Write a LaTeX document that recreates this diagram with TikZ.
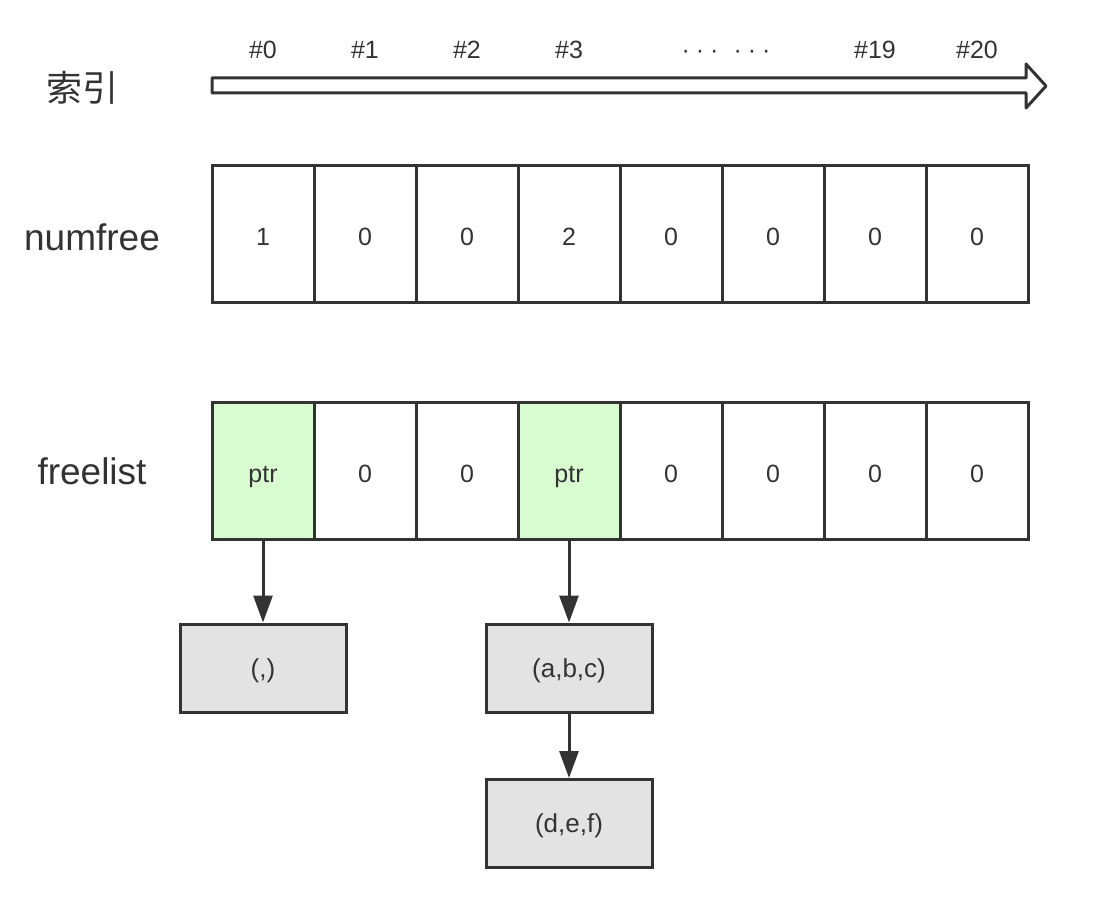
\documentclass[tikz,border=0pt]{standalone}
\usepackage{fontspec}
\setmainfont{Liberation Sans}
\newfontfamily\cjk{Noto Sans CJK SC}
\usetikzlibrary{arrows.meta}
\definecolor{ink}{HTML}{333333}
\definecolor{greenfill}{HTML}{D8FBD0}
\definecolor{grayfill}{HTML}{E3E3E3}
\begin{document}
\begin{tikzpicture}[x=1pt,y=-1pt,
  cell/.style={draw=ink,line width=3pt,minimum width=102pt,minimum height=137pt,inner sep=0pt,font=\fontsize{25}{30}\selectfont,text=ink,text height=25pt,text depth=2pt},
  green/.style={fill=greenfill},
  item/.style={draw=ink,line width=3pt,fill=grayfill,minimum width=166pt,minimum height=88pt,inner sep=0pt,font=\fontsize{26}{30}\selectfont,text=ink,text height=22pt,text depth=4pt},
  idx/.style={font=\fontsize{25}{30}\selectfont,text=ink},
  rowlabel/.style={font=\fontsize{37}{42}\selectfont,text=ink},
  link/.style={draw=ink,line width=3pt,-{Triangle[length=27pt,width=19pt]}}
]
\useasboundingbox (0,0) rectangle (1104,904);
% index arrow
\draw[ink,line width=3pt,fill=white,line join=round]
  (212,78) -- (1026,78) -- (1026,64) -- (1046,86) -- (1026,108) -- (1026,93) -- (212,93) -- cycle;
\node[rowlabel,font=\fontsize{36}{42}\selectfont] (lidx) at (82,88) {\cjk 索引};
\node[idx] (i0) at (263,50) {\#0};
\node[idx] (i1) at (365,50) {\#1};
\node[idx] (i2) at (467,50) {\#2};
\node[idx] (i3) at (569,50) {\#3};
\node[idx,anchor=base,inner sep=0pt] (idots) at (726,59) {·\kern6pt·\kern6pt·\kern15pt·\kern6pt·\kern6pt·};
\node[idx] (i19) at (875,50) {\#19};
\node[idx] (i20) at (977,50) {\#20};
% numfree
\node[rowlabel] (lnum) at (92,237) {numfree};
\node[cell] (n0) at (263,234) {1};
\node[cell] (n1) at (365,234) {0};
\node[cell] (n2) at (467,234) {0};
\node[cell] (n3) at (569,234) {2};
\node[cell] (n4) at (671,234) {0};
\node[cell] (n5) at (773,234) {0};
\node[cell] (n6) at (875,234) {0};
\node[cell] (n7) at (977,234) {0};
% freelist
\node[rowlabel] (lfree) at (92,471) {freelist};
\node[cell,green] (f0) at (263,470.5) {ptr};
\node[cell] (f1) at (365,470.5) {0};
\node[cell] (f2) at (467,470.5) {0};
\node[cell,green] (f3) at (569,470.5) {ptr};
\node[cell] (f4) at (671,470.5) {0};
\node[cell] (f5) at (773,470.5) {0};
\node[cell] (f6) at (875,470.5) {0};
\node[cell] (f7) at (977,470.5) {0};
% items
\node[item] (e0) at (263,668) {(,)};
\node[item] (abc) at (569,668) {(a,b,c)};
\node[item] (def) at (569,823.5) {(d,e,f)};
\draw[link] (f0.south) -- (e0.north);
\draw[link] (f3.south) -- (abc.north);
\draw[link] (abc.south) -- (def.north);
\end{tikzpicture}
\end{document}
